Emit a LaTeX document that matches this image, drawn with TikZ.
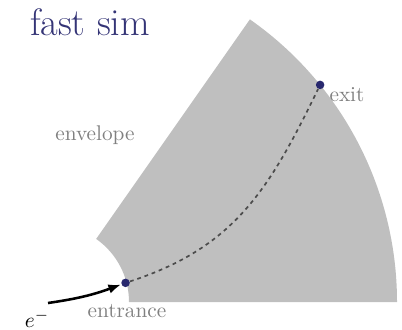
\documentclass[tikz,border=0pt]{standalone}
\usetikzlibrary{arrows.meta}
\definecolor{titleblue}{RGB}{52,52,118}
\definecolor{dotblue}{RGB}{40,40,110}
\begin{document}
\begin{tikzpicture}[x=0.47pt,y=0.47pt,
	dot/.style={circle,fill=dotblue,inner sep=0pt,minimum size=4pt},
	lbl/.style={text=black!50,inner sep=1pt}]
	\useasboundingbox (0,0) rectangle (402,329);
	% Define the coordinates
	\coordinate (O) at (52,27);
	\coordinate (src) at (48,26);
	% Draw the sector
	\fill[black!25] ([shift={(0:77)}]O) -- ([shift={(0:345)}]O)
		arc[start angle=0,end angle=55,radius=345]
		-- ([shift={(55:77)}]O)
		arc[start angle=55,end angle=0,radius=77] -- cycle;
	% Entrance and exit points
	\node[dot] (entry) at ([shift={(14.6:76)}]O) {};
	\node[dot] (exit) at ([shift={(39:345)}]O) {};
	% Draw the track
	\draw[black!70,dash pattern=on 1.8pt off 1.8pt,thick] (entry) to[out=18,in=-116,looseness=1.05] (exit);
	\draw[very thick,-{Latex[length=6pt]}] (src) to[bend right=6] (entry);
	% Add labels
	\node (title) at (90,307) {\fontsize{18}{20}\selectfont\color{titleblue}fast sim};
	\node[lbl] (envlbl) at (95,194) {envelope};
	\node[lbl,anchor=west] (exitlbl) at (327,234) {exit};
	\node[lbl] (entrylbl) at (127,18) {entrance};
	\node[inner sep=0pt] (elec) at (37,10) {$e^-$};
\end{tikzpicture}
\end{document}
